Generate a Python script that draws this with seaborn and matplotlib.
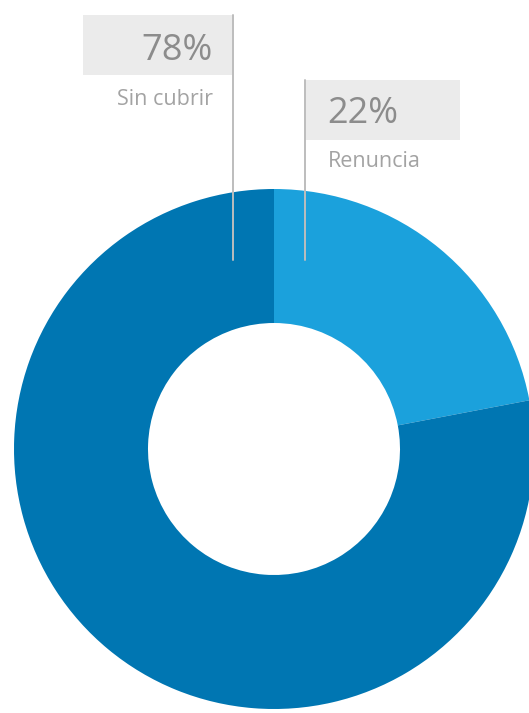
import matplotlib
matplotlib.use("Agg")
import matplotlib.pyplot as plt
import seaborn as sns
from matplotlib.patches import Rectangle

# data
categories = ["Renuncia", "Sin cubrir"]
values = [22, 78]
colors = ["#1BA1DC", "#0076B2"]

sns.set_theme(style="white")
plt.rcParams["font.family"] = ["Open Sans", "DejaVu Sans"]

W, H = 529, 713
fig = plt.figure(figsize=(W / 100, H / 100), dpi=100)
ax = fig.add_axes([0, 0, 1, 1])

# donut, pixel units (y flipped)
cx, cy, r_out, r_in = 274, H - 449, 260, 126
ax.pie(values, colors=colors, startangle=90, counterclock=False,
       center=(cx, cy), radius=r_out, frame=True,
       wedgeprops=dict(width=r_out - r_in, linewidth=0))
ax.set_xlim(0, W)
ax.set_ylim(0, H)
ax.axis("off")

box_col = "#EBEBEB"
line_col = "#BDBDBD"
big_col = "#8C8C8C"
small_col = "#A3A3A3"

# label for "Sin cubrir" (left, right-aligned)
ax.add_patch(Rectangle((83, H - 75), 150, 60, facecolor=box_col, edgecolor="none", zorder=1))
ax.plot([233, 233], [H - 15, H - 260], color=line_col, lw=1.4, zorder=3)
ax.text(213, H - 60, f"{values[1]}%", ha="right", va="baseline",
        fontsize=26, color=big_col, zorder=4)
ax.text(213, H - 105, categories[1], ha="right", va="baseline",
        fontsize=15.5, color=small_col, zorder=4)

# label for "Renuncia" (right, left-aligned)
ax.add_patch(Rectangle((305, H - 140), 155, 60, facecolor=box_col, edgecolor="none", zorder=1))
ax.plot([305, 305], [H - 80, H - 260], color=line_col, lw=1.4, zorder=3)
ax.text(327, H - 123, f"{values[0]}%", ha="left", va="baseline",
        fontsize=26, color=big_col, zorder=4)
ax.text(328, H - 167, categories[0], ha="left", va="baseline",
        fontsize=15.5, color=small_col, zorder=4)

fig.savefig("out.png", dpi=100, facecolor="white")
